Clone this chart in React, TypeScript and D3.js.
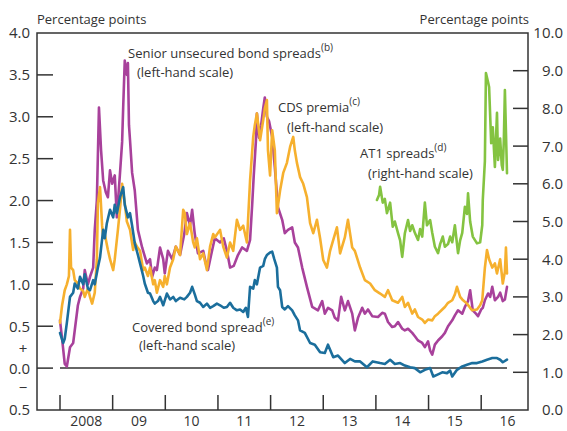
import React from "react";
import * as d3 from "d3";

// ---- data (decimal year, value) ----
const senior: [number, number][] = [
  [2008.0, 0.57], [2008.04, 0.35], [2008.09, 0.05], [2008.13, 0.02], [2008.19, 0.25], [2008.25, 0.3],
  [2008.28, 0.45], [2008.34, 0.75], [2008.38, 0.85], [2008.44, 0.95], [2008.47, 1.17], [2008.53, 1.0],
  [2008.57, 1.09], [2008.63, 1.2], [2008.66, 1.65], [2008.7, 2.0], [2008.74, 3.11], [2008.78, 2.6],
  [2008.82, 2.24], [2008.87, 2.1], [2008.91, 2.04], [2008.95, 2.36], [2008.99, 2.2], [2009.04, 2.3],
  [2009.08, 1.8], [2009.14, 2.33], [2009.18, 2.7], [2009.2, 3.11], [2009.23, 3.67], [2009.27, 3.5],
  [2009.29, 3.64], [2009.31, 2.9], [2009.33, 2.72], [2009.37, 2.33], [2009.42, 2.12], [2009.48, 1.65],
  [2009.56, 1.44], [2009.65, 1.25], [2009.71, 1.3], [2009.75, 1.09], [2009.8, 1.2], [2009.84, 1.17],
  [2009.9, 1.44], [2009.96, 1.3], [2009.99, 1.13], [2010.05, 1.4], [2010.13, 1.3], [2010.2, 1.45],
  [2010.28, 1.35], [2010.36, 1.6], [2010.41, 1.85], [2010.47, 1.7], [2010.51, 1.89], [2010.56, 1.6],
  [2010.62, 1.37], [2010.72, 1.4], [2010.77, 1.25], [2010.81, 1.17], [2010.87, 1.35], [2010.94, 1.55],
  [2011.04, 1.5], [2011.11, 1.55], [2011.17, 1.4], [2011.23, 1.2], [2011.3, 1.22], [2011.38, 1.35],
  [2011.46, 1.44], [2011.55, 1.4], [2011.61, 1.53], [2011.65, 1.95], [2011.68, 2.3], [2011.72, 2.7],
  [2011.74, 3.04], [2011.78, 2.75], [2011.82, 2.9], [2011.86, 3.1], [2011.89, 3.23], [2011.93, 3.0],
  [2011.97, 2.95], [2012.03, 2.76], [2012.08, 2.4], [2012.14, 1.92], [2012.22, 1.77], [2012.27, 1.61],
  [2012.33, 1.65], [2012.41, 1.68], [2012.46, 1.5], [2012.52, 1.44], [2012.6, 1.2], [2012.69, 0.97],
  [2012.79, 0.73], [2012.9, 0.69], [2012.98, 0.8], [2013.03, 0.65], [2013.09, 0.72], [2013.17, 0.69],
  [2013.22, 0.6], [2013.28, 0.57], [2013.34, 0.85], [2013.41, 0.69], [2013.47, 0.8], [2013.55, 0.65],
  [2013.6, 0.45], [2013.66, 0.6], [2013.74, 0.72], [2013.79, 0.65], [2013.85, 0.7], [2013.93, 0.62],
  [2014.04, 0.61], [2014.12, 0.66], [2014.17, 0.65], [2014.23, 0.55], [2014.31, 0.49], [2014.36, 0.5],
  [2014.42, 0.55], [2014.5, 0.47], [2014.55, 0.45], [2014.61, 0.47], [2014.69, 0.42], [2014.74, 0.38],
  [2014.8, 0.33], [2014.88, 0.3], [2014.93, 0.25], [2014.99, 0.32], [2015.03, 0.21], [2015.07, 0.16],
  [2015.12, 0.28], [2015.18, 0.33], [2015.26, 0.38], [2015.31, 0.42], [2015.37, 0.5], [2015.45, 0.57],
  [2015.5, 0.63], [2015.56, 0.69], [2015.64, 0.65], [2015.69, 0.73], [2015.75, 0.8], [2015.79, 0.93],
  [2015.84, 0.69], [2015.9, 0.65], [2015.94, 0.62], [2016.0, 0.7], [2016.03, 0.72], [2016.07, 0.81],
  [2016.13, 0.89], [2016.17, 0.85], [2016.21, 0.97], [2016.26, 0.81], [2016.32, 0.85], [2016.36, 0.9],
  [2016.41, 0.8], [2016.45, 0.82], [2016.49, 0.97],
];

const cds: [number, number][] = [
  [2008.0, 0.54], [2008.04, 0.75], [2008.09, 0.93], [2008.13, 1.0], [2008.17, 1.1], [2008.19, 1.65],
  [2008.21, 1.2], [2008.25, 1.17], [2008.28, 1.05], [2008.34, 1.01], [2008.38, 0.95], [2008.44, 0.92],
  [2008.47, 0.85], [2008.53, 0.95], [2008.57, 0.85], [2008.61, 0.77], [2008.66, 0.9], [2008.7, 1.3],
  [2008.72, 1.97], [2008.76, 2.16], [2008.8, 1.7], [2008.82, 1.56], [2008.85, 1.6], [2008.91, 1.41],
  [2008.95, 1.3], [2009.01, 1.17], [2009.04, 1.3], [2009.1, 1.65], [2009.14, 1.9], [2009.18, 2.2],
  [2009.2, 2.1], [2009.23, 1.97], [2009.27, 1.75], [2009.33, 1.65], [2009.39, 1.41], [2009.42, 1.5],
  [2009.46, 1.45], [2009.52, 1.4], [2009.58, 1.17], [2009.61, 1.2], [2009.67, 1.1], [2009.71, 1.2],
  [2009.77, 1.0], [2009.8, 1.05], [2009.84, 0.9], [2009.9, 1.05], [2009.96, 0.97], [2009.99, 1.1],
  [2010.03, 1.0], [2010.09, 1.2], [2010.15, 1.3], [2010.2, 1.45], [2010.28, 1.35], [2010.34, 1.89],
  [2010.37, 1.85], [2010.41, 1.6], [2010.47, 1.73], [2010.53, 1.5], [2010.56, 1.44], [2010.6, 1.55],
  [2010.66, 1.3], [2010.72, 1.37], [2010.79, 1.17], [2010.85, 1.45], [2010.91, 1.6], [2010.94, 1.56],
  [2011.04, 1.65], [2011.1, 1.45], [2011.17, 1.32], [2011.23, 1.5], [2011.29, 1.4], [2011.36, 1.77],
  [2011.42, 1.65], [2011.48, 1.7], [2011.55, 1.5], [2011.61, 2.24], [2011.67, 2.76], [2011.7, 2.9],
  [2011.74, 3.04], [2011.8, 2.72], [2011.86, 2.96], [2011.89, 3.1], [2011.93, 3.2], [2011.95, 2.6],
  [2011.99, 2.3], [2012.03, 2.84], [2012.08, 2.6], [2012.12, 1.85], [2012.18, 2.12], [2012.24, 2.33],
  [2012.31, 2.45], [2012.37, 2.64], [2012.43, 2.76], [2012.46, 2.6], [2012.5, 2.45], [2012.56, 2.28],
  [2012.62, 2.2], [2012.69, 2.04], [2012.75, 1.73], [2012.81, 1.61], [2012.88, 1.77], [2012.94, 1.55],
  [2013.0, 1.29], [2013.07, 1.2], [2013.13, 1.4], [2013.19, 1.53], [2013.26, 1.68], [2013.32, 1.37],
  [2013.41, 1.56], [2013.47, 1.77], [2013.55, 1.44], [2013.6, 1.4], [2013.7, 1.2], [2013.79, 1.05],
  [2013.89, 1.01], [2013.98, 0.93], [2014.08, 0.89], [2014.17, 0.85], [2014.23, 0.93], [2014.31, 0.81],
  [2014.42, 0.78], [2014.5, 0.85], [2014.55, 0.73], [2014.61, 0.78], [2014.69, 0.65], [2014.74, 0.7],
  [2014.8, 0.61], [2014.88, 0.58], [2014.93, 0.54], [2014.99, 0.58], [2015.07, 0.57], [2015.12, 0.62],
  [2015.18, 0.65], [2015.26, 0.7], [2015.31, 0.73], [2015.37, 0.78], [2015.45, 0.81], [2015.5, 0.88],
  [2015.54, 0.97], [2015.6, 0.85], [2015.64, 0.82], [2015.73, 0.77], [2015.79, 0.72], [2015.83, 0.69],
  [2015.92, 0.7], [2015.98, 0.75], [2016.02, 0.81], [2016.07, 1.2], [2016.11, 1.41], [2016.15, 1.3],
  [2016.21, 1.2], [2016.26, 1.25], [2016.3, 1.13], [2016.36, 1.3], [2016.41, 1.01], [2016.45, 1.15],
  [2016.47, 1.44], [2016.49, 1.13],
];

const covered: [number, number][] = [
  [2008.0, 0.42], [2008.06, 0.3], [2008.09, 0.35], [2008.13, 0.54], [2008.19, 0.85], [2008.25, 0.9],
  [2008.28, 1.01], [2008.34, 0.95], [2008.38, 1.09], [2008.44, 1.0], [2008.47, 1.12], [2008.53, 0.95],
  [2008.57, 0.93], [2008.63, 1.05], [2008.66, 1.0], [2008.72, 1.2], [2008.76, 1.32], [2008.82, 1.65],
  [2008.85, 1.55], [2008.89, 1.73], [2008.95, 1.89], [2009.01, 1.8], [2009.04, 1.95], [2009.08, 1.85],
  [2009.14, 2.04], [2009.2, 2.16], [2009.23, 1.95], [2009.29, 1.8], [2009.33, 1.85], [2009.37, 1.7],
  [2009.42, 1.49], [2009.48, 1.35], [2009.52, 1.25], [2009.58, 1.1], [2009.61, 1.01], [2009.67, 0.9],
  [2009.71, 0.89], [2009.77, 0.8], [2009.8, 0.77], [2009.86, 0.8], [2009.9, 0.85], [2009.96, 0.75],
  [2010.03, 0.89], [2010.09, 0.82], [2010.15, 0.85], [2010.2, 0.8], [2010.28, 0.84], [2010.36, 0.82],
  [2010.41, 0.85], [2010.47, 0.9], [2010.51, 0.97], [2010.56, 0.88], [2010.6, 0.8], [2010.66, 0.78],
  [2010.72, 0.73], [2010.79, 0.77], [2010.85, 0.72], [2010.91, 0.74], [2010.98, 0.77], [2011.04, 0.75],
  [2011.11, 0.72], [2011.17, 0.73], [2011.23, 0.78], [2011.29, 0.72], [2011.36, 0.69], [2011.42, 0.7],
  [2011.48, 0.67], [2011.53, 0.72], [2011.57, 0.61], [2011.61, 0.97], [2011.67, 0.95], [2011.7, 1.05],
  [2011.74, 1.0], [2011.8, 1.2], [2011.86, 1.22], [2011.89, 1.3], [2011.93, 1.35], [2011.99, 1.38],
  [2012.03, 1.39], [2012.07, 1.3], [2012.12, 1.2], [2012.14, 0.97], [2012.18, 0.93], [2012.22, 0.73],
  [2012.27, 0.7], [2012.33, 0.74], [2012.41, 0.69], [2012.46, 0.63], [2012.52, 0.57], [2012.56, 0.45],
  [2012.65, 0.42], [2012.75, 0.3], [2012.84, 0.28], [2012.94, 0.19], [2013.03, 0.18], [2013.09, 0.28],
  [2013.19, 0.13], [2013.28, 0.15], [2013.41, 0.06], [2013.51, 0.11], [2013.6, 0.08], [2013.7, 0.08],
  [2013.83, 0.01], [2013.94, 0.08], [2014.08, 0.06], [2014.17, 0.05], [2014.27, 0.1], [2014.36, 0.05],
  [2014.46, 0.06], [2014.55, 0.03], [2014.65, 0.01], [2014.74, 0.0], [2014.84, -0.05], [2014.93, -0.02],
  [2015.03, 0.0], [2015.09, -0.1], [2015.16, -0.08], [2015.26, -0.05], [2015.35, -0.06], [2015.41, -0.03],
  [2015.45, -0.1], [2015.54, -0.02], [2015.64, 0.02], [2015.73, 0.04], [2015.83, 0.06], [2015.92, 0.06],
  [2016.02, 0.08], [2016.11, 0.1], [2016.21, 0.12], [2016.3, 0.12], [2016.36, 0.1], [2016.41, 0.07],
  [2016.49, 0.1],
];

const at1: [number, number][] = [
  [2014.02, 5.57], [2014.06, 5.7], [2014.08, 5.92], [2014.13, 5.5], [2014.17, 5.6], [2014.21, 5.22],
  [2014.27, 5.5], [2014.32, 4.86], [2014.36, 5.0], [2014.42, 4.69], [2014.46, 4.5], [2014.5, 4.06],
  [2014.55, 4.69], [2014.61, 5.04], [2014.65, 4.75], [2014.69, 4.9], [2014.74, 4.7], [2014.8, 4.51],
  [2014.84, 4.8], [2014.88, 4.6], [2014.93, 5.5], [2014.97, 4.9], [2015.03, 5.04], [2015.07, 4.7],
  [2015.12, 4.33], [2015.18, 4.16], [2015.22, 4.4], [2015.27, 4.6], [2015.31, 4.33], [2015.37, 4.4],
  [2015.41, 4.6], [2015.45, 4.45], [2015.5, 4.9], [2015.56, 4.16], [2015.6, 4.5], [2015.64, 4.7],
  [2015.69, 5.39], [2015.73, 5.2], [2015.75, 5.75], [2015.79, 5.0], [2015.84, 4.6], [2015.92, 4.42],
  [2015.98, 4.45], [2016.02, 4.9], [2016.03, 5.57], [2016.07, 6.6], [2016.09, 8.94], [2016.13, 8.7],
  [2016.15, 8.57], [2016.19, 7.08], [2016.22, 7.5], [2016.26, 6.45], [2016.3, 7.88], [2016.32, 6.63],
  [2016.36, 7.2], [2016.39, 6.5], [2016.41, 6.37], [2016.43, 7.16], [2016.45, 8.49], [2016.49, 6.28],
];

const years = [2008, 2009, 2010, 2011, 2012, 2013, 2014, 2015, 2016];
const yearLabels = ["2008", "09", "10", "11", "12", "13", "14", "15", "16"];
const leftTicks = [4.0, 3.5, 3.0, 2.5, 2.0, 1.5, 1.0, 0.5, 0.0, -0.5];
const rightTicks = [10, 9, 8, 7, 6, 5, 4, 3, 2, 1, 0];

const COLORS = {
  senior: "#a8419b",
  cds: "#f6b02e",
  covered: "#1b6e9c",
  at1: "#84c341",
};

const W = 567;
const H = 431;
const box = { left: 37, right: 528, top: 33, bottom: 410 };
const FONT = "'Open Sans', sans-serif";
const TXT = "#333333";

export default function App() {
  const x = d3.scaleLinear().domain([2008, 2017]).range([60, 60 + 9 * 52.65]);
  const yL = d3.scaleLinear().domain([-0.5, 4.0]).range([box.bottom, box.top]);
  const yR = d3.scaleLinear().domain([0, 10]).range([box.bottom, box.top]);

  const lineL = d3
    .line<[number, number]>()
    .x((d) => x(d[0]))
    .y((d) => yL(d[1]));
  const lineR = d3
    .line<[number, number]>()
    .x((d) => x(d[0]))
    .y((d) => yR(d[1]));

  const sw = 2.6;
  const pathProps = {
    fill: "none",
    strokeWidth: sw,
    strokeLinejoin: "round" as const,
    strokeLinecap: "round" as const,
  };

  return (
    <svg
      width={W}
      height={H}
      style={{ position: "absolute", left: 0, top: 0, background: "#fff" }}
      fontFamily={FONT}
    >
      {/* frame */}
      <rect
        x={box.left}
        y={box.top}
        width={box.right - box.left}
        height={box.bottom - box.top}
        fill="none"
        stroke={TXT}
        strokeWidth={1.5}
      />
      {/* left ticks */}
      {leftTicks
        .filter((t) => t > -0.5 && t < 4.0)
        .map((t) => (
          <line key={"lt" + t} x1={box.left} x2={box.left + 16} y1={yL(t)} y2={yL(t)} stroke={TXT} strokeWidth={1.5} />
        ))}
      {/* right ticks */}
      {rightTicks
        .filter((t) => t > 0 && t < 10)
        .map((t) => (
          <line key={"rt" + t} x1={box.right - 15} x2={box.right} y1={yR(t)} y2={yR(t)} stroke={TXT} strokeWidth={1.5} />
        ))}
      {/* x ticks */}
      {years.map((yv) => (
        <line key={"xt" + yv} x1={x(yv)} x2={x(yv)} y1={box.bottom - 15} y2={box.bottom} stroke={TXT} strokeWidth={1.5} />
      ))}
      {/* zero line */}
      <line x1={x(2008)} x2={x(2016.49)} y1={yL(0)} y2={yL(0)} stroke={TXT} strokeWidth={1.5} />

      {/* series */}
      <path d={lineL(senior) || ""} stroke={COLORS.senior} {...pathProps} />
      <path d={lineL(cds) || ""} stroke={COLORS.cds} {...pathProps} />
      <path d={lineL(covered) || ""} stroke={COLORS.covered} {...pathProps} />
      <path d={lineR(at1) || ""} stroke={COLORS.at1} {...pathProps} />

      {/* left labels */}
      {leftTicks.map((t) => (
        <text key={"ll" + t} x={30} y={yL(t)} dy="0.36em" textAnchor="end" fontSize={15} fill={TXT}>
          {Math.abs(t).toFixed(1)}
        </text>
      ))}
      <text x={23} y={yL(0.235)} dy="0.36em" textAnchor="middle" fontSize={15} fill={TXT}>+</text>
      <text x={23} y={yL(-0.23)} dy="0.36em" textAnchor="middle" fontSize={15} fill={TXT}>−</text>

      {/* right labels */}
      {rightTicks.map((t) => (
        <text key={"rl" + t} x={563} y={yR(t)} dy="0.36em" textAnchor="end" fontSize={15} fill={TXT}>
          {t.toFixed(1)}
        </text>
      ))}

      {/* x labels */}
      {years.map((yv, i) => (
        <text key={"xl" + yv} x={x(yv + 0.5)} y={426} textAnchor="middle" fontSize={14} fill={TXT}>
          {yearLabels[i]}
        </text>
      ))}

      {/* axis titles */}
      <text x={37} y={24} fontSize={13} fill={TXT}>Percentage points</text>
      <text x={529} y={24} textAnchor="end" fontSize={13} fill={TXT}>Percentage points</text>

      {/* annotations */}
      <text x={128} y={58} fontSize={13} fill={TXT}>
        Senior unsecured bond spreads<tspan fontSize={10} dy={-7}>(b)</tspan>
      </text>
      <text x={137} y={77} fontSize={13} fill={TXT}>(left-hand scale)</text>

      <text x={278} y={112} fontSize={13} fill={TXT}>
        CDS premia<tspan fontSize={10} dy={-7}>(c)</tspan>
      </text>
      <text x={287} y={132} fontSize={13} fill={TXT}>(left-hand scale)</text>

      <text x={360} y={158} fontSize={13} fill={TXT}>
        AT1 spreads<tspan fontSize={10} dy={-7}>(d)</tspan>
      </text>
      <text x={368} y={178} fontSize={13} fill={TXT}>(right-hand scale)</text>

      <text x={132} y={332} fontSize={13} fill={TXT}>
        Covered bond spread<tspan fontSize={10} dy={-7}>(e)</tspan>
      </text>
      <text x={139} y={350} fontSize={13} fill={TXT}>(left-hand scale)</text>
    </svg>
  );
}
